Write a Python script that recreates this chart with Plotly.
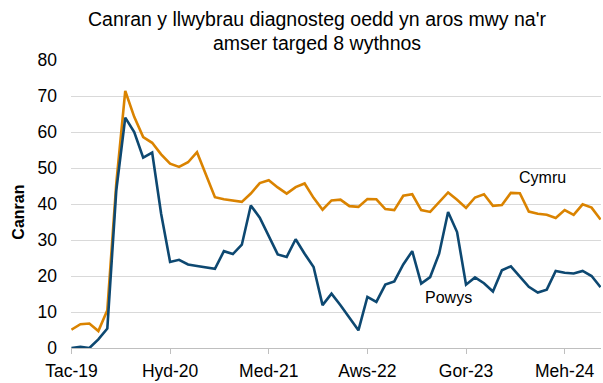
import plotly.graph_objects as go

# Monthly categories (Welsh month abbreviations)
months = [
    "Tac-19", "Rha-19",
    "Ion-20", "Chw-20", "Maw-20", "Ebr-20", "Mai-20", "Meh-20", "Gor-20", "Aws-20", "Med-20", "Hyd-20", "Tac-20", "Rha-20",
    "Ion-21", "Chw-21", "Maw-21", "Ebr-21", "Mai-21", "Meh-21", "Gor-21", "Aws-21", "Med-21", "Hyd-21", "Tac-21", "Rha-21",
    "Ion-22", "Chw-22", "Maw-22", "Ebr-22", "Mai-22", "Meh-22", "Gor-22", "Aws-22", "Med-22", "Hyd-22", "Tac-22", "Rha-22",
    "Ion-23", "Chw-23", "Maw-23", "Ebr-23", "Mai-23", "Meh-23", "Gor-23", "Aws-23", "Med-23", "Hyd-23", "Tac-23", "Rha-23",
    "Ion-24", "Chw-24", "Maw-24", "Ebr-24", "Mai-24", "Meh-24", "Gor-24", "Aws-24", "Med-24", "Hyd-24",
]

# Percentage of diagnostic pathways waiting longer than the 8-week target
cymru = [
    5.1, 6.6, 6.8, 4.7, 10.5, 45.7, 71.4, 64.2, 58.6, 57.0,
    53.8, 51.2, 50.3, 51.6, 54.4, 48.2, 41.9, 41.3, 40.9, 40.6,
    42.9, 45.8, 46.6, 44.6, 42.9, 44.7, 45.7, 41.7, 38.4, 41.0,
    41.2, 39.4, 39.2, 41.4, 41.3, 38.6, 38.3, 42.3, 42.7, 38.3,
    37.8, 40.6, 43.2, 41.2, 38.9, 41.8, 42.7, 39.5, 39.7, 43.1,
    43.0, 37.9, 37.3, 37.0, 36.1, 38.3, 37.0, 39.9, 39.0, 35.7,
]
powys = [
    0.0, 0.3, 0.0, 2.4, 5.4, 43.8, 64.0, 60.0, 52.9, 54.3,
    37.3, 23.9, 24.5, 23.2, 22.8, 22.5, 22.0, 26.9, 26.1, 28.7,
    39.6, 36.2, 31.0, 26.0, 25.3, 30.2, 26.2, 22.5, 11.9, 15.1,
    11.9, 8.4, 4.9, 14.2, 12.8, 17.6, 18.5, 23.2, 26.9, 17.9,
    19.7, 26.2, 37.8, 32.2, 17.6, 19.6, 18.0, 15.7, 21.6, 22.7,
    19.7, 17.0, 15.4, 16.2, 21.4, 20.9, 20.7, 21.4, 20.0, 16.9,
]

tick_labels = ["Tac-19", "Hyd-20", "Med-21", "Aws-22", "Gor-23", "Meh-24"]
y_ticks = [0, 10, 20, 30, 40, 50, 60, 70, 80]
title_lines = ["Canran y llwybrau diagnosteg oedd yn aros mwy na'r",
               "amser targed 8 wythnos"]

ORANGE = "#DA8300"
NAVY = "#0D4871"
FONT = "Liberation Sans, Arial, sans-serif"

fig = go.Figure()
fig.add_trace(go.Scatter(x=months, y=cymru, mode="lines", name="Cymru",
                         line=dict(color=ORANGE, width=2.6)))
fig.add_trace(go.Scatter(x=months, y=powys, mode="lines", name="Powys",
                         line=dict(color=NAVY, width=2.6)))

# Two-line chart title, placed line by line above the plot area
title_annotations = [
    dict(text=line, xref="paper", yref="paper", x=(317 - 71) / 530, y=yy,
         xanchor="center", yanchor="middle", showarrow=False,
         font=dict(family=FONT, size=19.5, color="#000000"))
    for line, yy in zip(title_lines, [1.143, 1.058])
]

fig.update_layout(
    width=603, height=383,
    margin=dict(l=71, r=2, t=60, b=35),
    paper_bgcolor="white", plot_bgcolor="white",
    showlegend=False,
    font=dict(family=FONT, size=16, color="#000000"),
    xaxis=dict(
        type="category",
        range=[-0.05, len(months) - 0.95],
        tickmode="array", tickvals=tick_labels, ticktext=tick_labels,
        showgrid=False, zeroline=False,
        showline=True, linecolor="#BFBFBF", linewidth=1.3,
        ticks="outside", ticklen=5, tickcolor="#BFBFBF", tickwidth=1,
        ticklabelstandoff=2,
        tickfont=dict(family=FONT, size=17.5),
    ),
    yaxis=dict(
        range=[0, 80], tickvals=y_ticks,
        showgrid=True, gridcolor="#D9D9D9", gridwidth=1.3,
        zeroline=False, showline=False, ticks="",
        ticklabelstandoff=13,
        tickfont=dict(family=FONT, size=17.5),
    ),
    annotations=title_annotations + [
        dict(text="<b>Canran</b>", textangle=-90, xref="paper", yref="paper",
             x=(19 - 71) / 530, y=0.47, xanchor="center", yanchor="middle",
             showarrow=False, font=dict(family=FONT, size=16)),
        dict(text="Cymru", xref="paper", yref="paper", x=0.889, y=0.593,
             xanchor="center", yanchor="middle", showarrow=False,
             font=dict(family=FONT, size=16)),
        dict(text="Powys", xref="paper", yref="paper", x=0.713, y=0.176,
             xanchor="center", yanchor="middle", showarrow=False,
             font=dict(family=FONT, size=16)),
    ],
)

fig.write_html("out.html")
